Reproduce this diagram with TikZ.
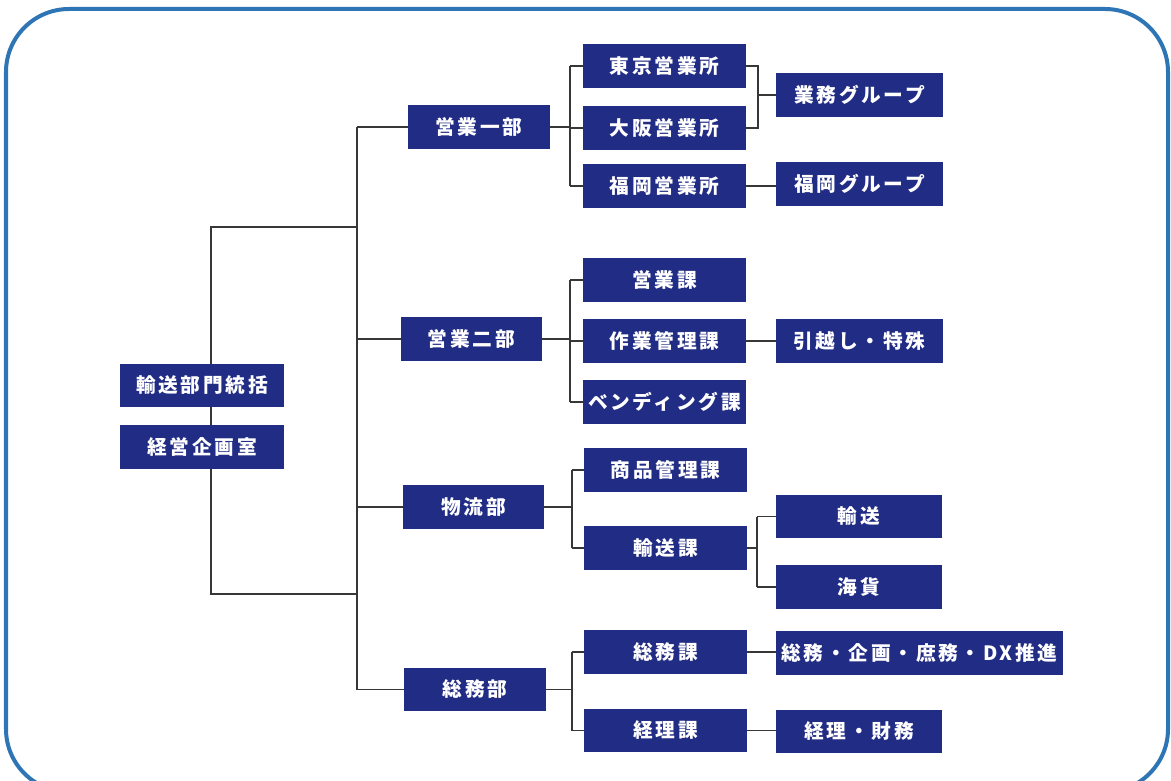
\documentclass[tikz,border=0pt]{standalone}
\usepackage{fontspec}
\newfontfamily\jpfont{Noto Sans CJK JP}[LetterSpace=14]
\definecolor{unitnavy}{RGB}{33,44,132}
\definecolor{frameblue}{RGB}{46,117,182}
\definecolor{linkgrey}{RGB}{55,55,55}

\begin{document}
\begin{tikzpicture}[x=0.025cm, y=-0.025cm,
  unit/.style={fill=unitnavy, text=white, inner sep=0pt, minimum height=1.075cm,
    font=\jpfont\bfseries\fontsize{14}{16}\selectfont},
  link/.style={linkgrey, line width=0.75pt}]

\useasboundingbox (0,0) rectangle (1171,781);
\clip (0,0) rectangle (1171,781);

% Outer frame
\draw[frameblue, line width=0.1cm, rounded corners=1.575cm] (6,9) rectangle (1168,792);

% Branch points
\coordinate (trunk) at (357,0);
\coordinate (lt) at (211,227);
\coordinate (lb) at (211,594);
\coordinate (b1) at (570,0);
\coordinate (b2) at (572,0);
\coordinate (g1) at (758,0);
\coordinate (g2) at (757,0);

% Bracket behind the head boxes
\draw[link] (lt -| trunk) -- (lt) -- (lb) -- (lb -| trunk);

% Head
\node[unit, minimum width=4.1cm] (tousou) at (202,385.5) {輸送部門統括};
\node[unit, minimum width=4.1cm] (kikaku) at (202,447) {経営企画室};

% Departments
\node[unit, minimum width=3.55cm] (eigyo1) at (479,127) {営業一部};
\node[unit, minimum width=3.53cm] (eigyo2) at (471.5,339) {営業二部};
\node[unit, minimum width=3.53cm] (butsuryu) at (473.5,507) {物流部};
\node[unit, minimum width=3.55cm] (somu) at (475,689.5) {総務部};

% Sections
\node[unit, minimum width=4.08cm] (tokyo) at (664.5,66) {東京営業所};
\node[unit, minimum width=4.08cm] (osaka) at (664.5,128) {大阪営業所};
\node[unit, minimum width=4.08cm] (fukuoka) at (664.5,186) {福岡営業所};
\node[unit, minimum width=4.08cm] (eigyoka) at (664.5,280) {営業課};
\node[unit, minimum width=4.08cm] (sagyo) at (664.5,341) {作業管理課};
\node[unit, minimum width=4.08cm] (vending) at (664.5,402) {ベンディング課};
\node[unit, minimum width=4.08cm] (shohin) at (665.5,470) {商品管理課};
\node[unit, minimum width=4.08cm] (yusoka) at (665.5,548) {輸送課};
\node[unit, minimum width=4.08cm] (somuka) at (665.5,652) {総務課};
\node[unit, minimum width=4.08cm] (keirika) at (665.5,730.5) {経理課};

% Groups
\node[unit, minimum width=4.18cm] (gyomu) at (859.5,95) {業務グループ};
\node[unit, minimum width=4.18cm] (fukuokag) at (859.5,184) {福岡グループ};
\node[unit, minimum width=4.18cm] (hikkoshi) at (859.5,341) {引越し・特殊};
\node[unit, minimum width=4.15cm] (yuso) at (859,516.5) {輸送};
\node[unit, minimum width=4.15cm] (kaika) at (859,587) {海貨};
\node[unit, minimum width=7.18cm] (somuall) at (919.5,653) {総務・企画・庶務・DX推進};
\node[unit, minimum width=4.15cm] (keiri) at (859,731) {経理・財務};

% Trunk to departments
\draw[link] (eigyo1.west -| trunk) -- (somu.west -| trunk);
\foreach \d in {eigyo1,eigyo2,butsuryu,somu}
  \draw[link] (\d.west -| trunk) -- (\d.west);

% Departments to sections
\draw[link] (eigyo1.east) -- (eigyo1.east -| b1);
\draw[link] (tokyo.west -| b1) -- (fukuoka.west -| b1);
\foreach \s in {tokyo,osaka,fukuoka}
  \draw[link] (\s.west -| b1) -- (\s.west);

\draw[link] (eigyo2.east) -- (eigyo2.east -| b1);
\draw[link] (eigyoka.west -| b1) -- (vending.west -| b1);
\foreach \s in {eigyoka,sagyo,vending}
  \draw[link] (\s.west -| b1) -- (\s.west);

\draw[link] (butsuryu.east) -- (butsuryu.east -| b2);
\draw[link] (shohin.west -| b2) -- (yusoka.west -| b2);
\foreach \s in {shohin,yusoka}
  \draw[link] (\s.west -| b2) -- (\s.west);

\draw[link] (somu.east) -- (somu.east -| b2);
\draw[link] (somuka.west -| b2) -- (keirika.west -| b2);
\foreach \s in {somuka,keirika}
  \draw[link] (\s.west -| b2) -- (\s.west);

% Sections to groups
\draw[link] (tokyo.east) -- (tokyo.east -| g1) -- (osaka.east -| g1) -- (osaka.east);
\draw[link] (gyomu.west -| g1) -- (gyomu.west);
\draw[link] (fukuoka.east) -- (fukuokag.west |- fukuoka.east);
\draw[link] (sagyo.east) -- (hikkoshi.west);
\draw[link] (yusoka.east) -- (yusoka.east -| g2);
\draw[link] (yuso.west -| g2) -- (kaika.west -| g2);
\foreach \s in {yuso,kaika}
  \draw[link] (\s.west -| g2) -- (\s.west);
\draw[link] (somuka.east) -- (somuall.west |- somuka.east);
\draw[link] (keirika.east) -- (keiri.west |- keirika.east);

\end{tikzpicture}
\end{document}
